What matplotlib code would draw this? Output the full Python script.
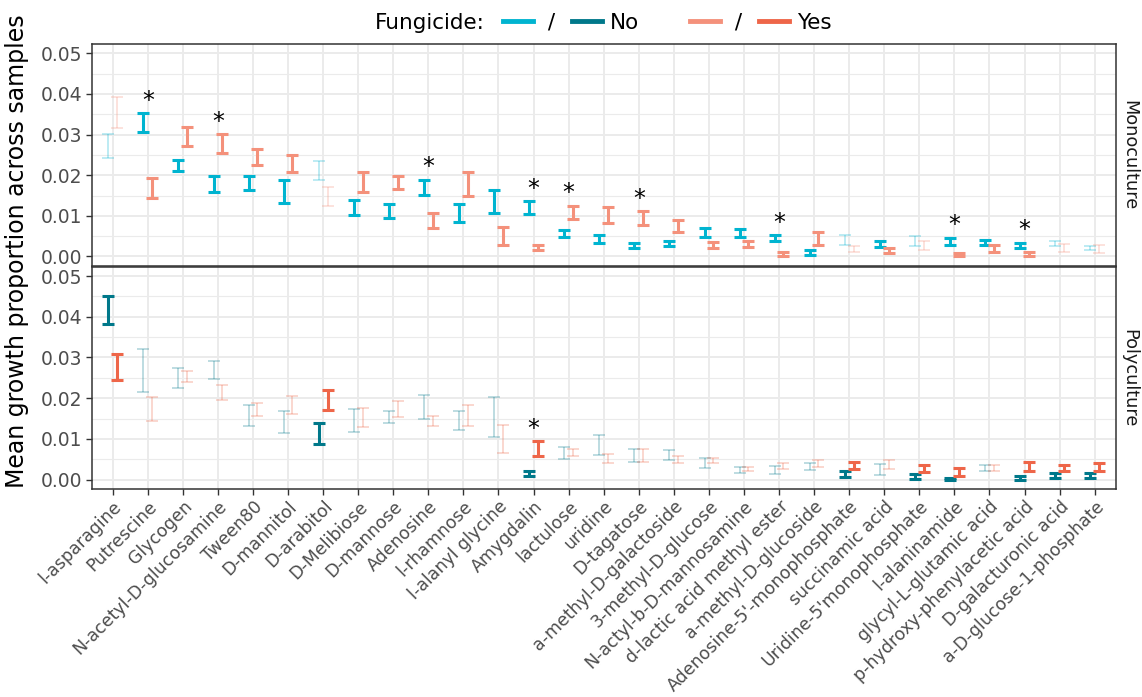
import numpy as np
import matplotlib.pyplot as plt
from matplotlib.lines import Line2D
from matplotlib.ticker import MultipleLocator

# substrates in plotting order
substrates = ["l-asparagine", "Putrescine", "Glycogen", "N-acetyl-D-glucosamine", "Tween80",
              "D-mannitol", "D-arabitol", "D-Melibiose", "D-mannose", "Adenosine",
              "l-rhamnose", "l-alanyl glycine", "Amygdalin", "lactulose", "uridine",
              "D-tagatose", "a-methyl-D-galactoside", "3-methyl-D-glucose",
              "N-actyl-b-D-mannosamine", "d-lactic acid methyl ester", "a-methyl-D-glucoside",
              "Adenosine-5'-monophosphate", "succinamic acid", "Uridine-5'monophosphate",
              "l-alaninamide", "glycyl-L-glutamic acid", "p-hydroxy-phenylacetic acid",
              "D-galacturonic acid", "a-D-glucose-1-phosphate"]

# Monoculture: error bar limits, fungicide No / Yes
mono_no_lo = [0.0243, 0.0307, 0.0210, 0.0159, 0.0164, 0.0131, 0.0187, 0.0101, 0.0094, 0.0151,
              0.0084, 0.0108, 0.0105, 0.0048, 0.0034, 0.0022, 0.0026, 0.0048, 0.0048, 0.0039,
              0.0003, 0.0029, 0.0023, 0.0026, 0.0029, 0.0029, 0.0020, 0.0026, 0.0016]
mono_no_hi = [0.0302, 0.0352, 0.0238, 0.0198, 0.0198, 0.0188, 0.0235, 0.0140, 0.0130, 0.0189,
              0.0130, 0.0163, 0.0136, 0.0066, 0.0053, 0.0033, 0.0039, 0.0070, 0.0068, 0.0053,
              0.0015, 0.0052, 0.0038, 0.0051, 0.0046, 0.0041, 0.0034, 0.0037, 0.0025]
mono_yes_lo = [0.0317, 0.0143, 0.0271, 0.0255, 0.0224, 0.0209, 0.0125, 0.0158, 0.0167, 0.0069,
               0.0150, 0.0029, 0.0015, 0.0093, 0.0082, 0.0078, 0.0059, 0.0020, 0.0023, 0.0000,
               0.0029, 0.0011, 0.0008, 0.0016, 0.0000, 0.0011, 0.0000, 0.0011, 0.0008]
mono_yes_hi = [0.0393, 0.0192, 0.0319, 0.0301, 0.0264, 0.0250, 0.0172, 0.0208, 0.0199, 0.0107,
               0.0207, 0.0072, 0.0027, 0.0125, 0.0121, 0.0112, 0.0089, 0.0036, 0.0039, 0.0011,
               0.0059, 0.0025, 0.0021, 0.0037, 0.0008, 0.0028, 0.0011, 0.0030, 0.0027]
mono_solid = [0, 1, 1, 1, 1, 1, 0, 1, 1, 1, 1, 1, 1, 1, 1, 1, 1, 1, 1, 1,
              1, 0, 1, 0, 1, 1, 1, 0, 0]
mono_star = [0, 1, 0, 1, 0, 0, 0, 0, 0, 1, 0, 0, 1, 1, 0, 1, 0, 0, 0, 1,
             0, 0, 0, 0, 1, 0, 1, 0, 0]

# Polyculture
poly_no_lo = [0.0382, 0.0215, 0.0224, 0.0247, 0.0131, 0.0114, 0.0087, 0.0118, 0.0138, 0.0149,
              0.0122, 0.0105, 0.0008, 0.0050, 0.0060, 0.0044, 0.0048, 0.0028, 0.0016, 0.0013,
              0.0024, 0.0007, 0.0012, 0.0002, 0.0000, 0.0021, 0.0000, 0.0005, 0.0004]
poly_no_hi = [0.0451, 0.0322, 0.0275, 0.0291, 0.0184, 0.0168, 0.0138, 0.0174, 0.0169, 0.0209,
              0.0169, 0.0202, 0.0020, 0.0081, 0.0110, 0.0076, 0.0073, 0.0054, 0.0030, 0.0034,
              0.0042, 0.0020, 0.0038, 0.0014, 0.0004, 0.0035, 0.0010, 0.0016, 0.0016]
poly_yes_lo = [0.0245, 0.0143, 0.0239, 0.0196, 0.0157, 0.0160, 0.0170, 0.0130, 0.0154, 0.0131,
               0.0132, 0.0066, 0.0058, 0.0057, 0.0041, 0.0044, 0.0041, 0.0041, 0.0020, 0.0025,
               0.0030, 0.0025, 0.0026, 0.0019, 0.0010, 0.0022, 0.0020, 0.0020, 0.0021]
poly_yes_hi = [0.0308, 0.0203, 0.0266, 0.0233, 0.0188, 0.0206, 0.0220, 0.0175, 0.0192, 0.0157,
               0.0184, 0.0135, 0.0095, 0.0075, 0.0062, 0.0076, 0.0057, 0.0053, 0.0030, 0.0040,
               0.0049, 0.0044, 0.0049, 0.0035, 0.0028, 0.0035, 0.0044, 0.0036, 0.0040]
poly_solid = [1, 0, 0, 0, 0, 0, 1, 0, 0, 0, 0, 0, 1, 0, 0, 0, 0, 0, 0, 0,
              0, 1, 0, 1, 1, 0, 1, 1, 1]
poly_star = [0, 0, 0, 0, 0, 0, 0, 0, 0, 0, 0, 0, 1, 0, 0, 0, 0, 0, 0, 0,
             0, 0, 0, 0, 0, 0, 0, 0, 0]

col_mono_no, col_poly_no = "#00b4d0", "#00788a"
col_mono_yes, col_poly_yes = "#f4917b", "#ee6649"
grid_col = "#ebebeb"

fig = plt.figure(figsize=(11.42, 6.97), dpi=100)
ax_top = fig.add_axes([91.7 / 1142, 1 - 265.8 / 697, 1024 / 1142, 221.8 / 697])
ax_bot = fig.add_axes([91.7 / 1142, 1 - 489 / 697, 1024 / 1142, 222.3 / 697])

x = np.arange(len(substrates))
dodge = 0.125


def draw_panel(ax, no_lo, no_hi, yes_lo, yes_hi, solid, star, c_no, c_yes, label):
    solid = np.array(solid, dtype=bool)
    for lo, hi, c, off in [(no_lo, no_hi, c_no, -dodge), (yes_lo, yes_hi, c_yes, dodge)]:
        lo, hi = np.array(lo), np.array(hi)
        mid, err = (lo + hi) / 2, (hi - lo) / 2
        for mask, a, lw in [(solid, 1.0, 2.2), (~solid, 0.33, 1.1)]:
            ax.errorbar(x[mask] + off, mid[mask], yerr=err[mask], fmt="none", ecolor=c,
                        alpha=a, elinewidth=lw, capsize=4, capthick=lw, zorder=3)
    top = np.maximum(no_hi, yes_hi)
    for i in range(len(substrates)):
        if star[i]:
            ax.text(x[i], top[i] + 0.0001, "*", ha="center", va="bottom",
                    fontsize=17, color="black", zorder=4)
    ax.set_xlim(-0.6, len(substrates) - 0.4)
    ax.set_ylim(-0.0023, 0.0523)
    ax.yaxis.set_major_locator(MultipleLocator(0.01))
    ax.yaxis.set_minor_locator(MultipleLocator(0.005))
    ax.yaxis.set_major_formatter(plt.FormatStrFormatter("%.2f"))
    ax.set_xticks(x)
    ax.grid(which="major", color=grid_col, lw=1.4, zorder=0)
    ax.grid(which="minor", axis="y", color=grid_col, lw=0.8, zorder=0)
    ax.set_axisbelow(True)
    ax.tick_params(axis="y", which="major", labelsize=13.5, labelcolor="#4d4d4d",
                   color="#333333", length=4, width=1, pad=3)
    ax.tick_params(axis="y", which="minor", length=0)
    for s in ax.spines.values():
        s.set_color("#333333")
        s.set_linewidth(1.1)
    ax.text(1.0135, 0.5, label, transform=ax.transAxes, rotation=-90, ha="center",
            va="center", fontsize=12.8, color="#1a1a1a")


draw_panel(ax_top, mono_no_lo, mono_no_hi, mono_yes_lo, mono_yes_hi, mono_solid, mono_star,
           col_mono_no, col_mono_yes, "Monoculture")
draw_panel(ax_bot, poly_no_lo, poly_no_hi, poly_yes_lo, poly_yes_hi, poly_solid, poly_star,
           col_poly_no, col_poly_yes, "Polyculture")

ax_top.tick_params(axis="x", length=0, labelbottom=False)
ax_bot.tick_params(axis="x", length=4, width=1, color="#333333", labelsize=12.5,
                   labelcolor="#4d4d4d", pad=2)
ax_bot.set_xticklabels(substrates, rotation=45, ha="right", va="top", rotation_mode="anchor")

fig.text(17 / 1142, 1 - 251 / 697, "Mean growth proportion across samples", rotation=90,
         ha="center", va="center", fontsize=17)

# legend
fig.text(375 / 1142, 1 - 23 / 697, "Fungicide:", ha="left", va="center", fontsize=15.5)
h_no = [Line2D([], [], color=col_mono_no, lw=3.5), Line2D([], [], color=col_poly_no, lw=3.5)]
h_yes = [Line2D([], [], color=col_mono_yes, lw=3.5), Line2D([], [], color=col_poly_yes, lw=3.5)]
leg_kw = dict(ncol=2, frameon=False, fontsize=15.5, handlelength=1.4, handletextpad=0.35,
              columnspacing=0.8, borderpad=0, borderaxespad=0, loc="center left")
fig.legend(h_no, [" /", "No"], bbox_to_anchor=(503 / 1142, 1 - 23 / 697), **leg_kw)
fig.legend(h_yes, [" /", "Yes"], bbox_to_anchor=(690 / 1142, 1 - 23 / 697), **leg_kw)

fig.savefig("out.png", dpi=100)
